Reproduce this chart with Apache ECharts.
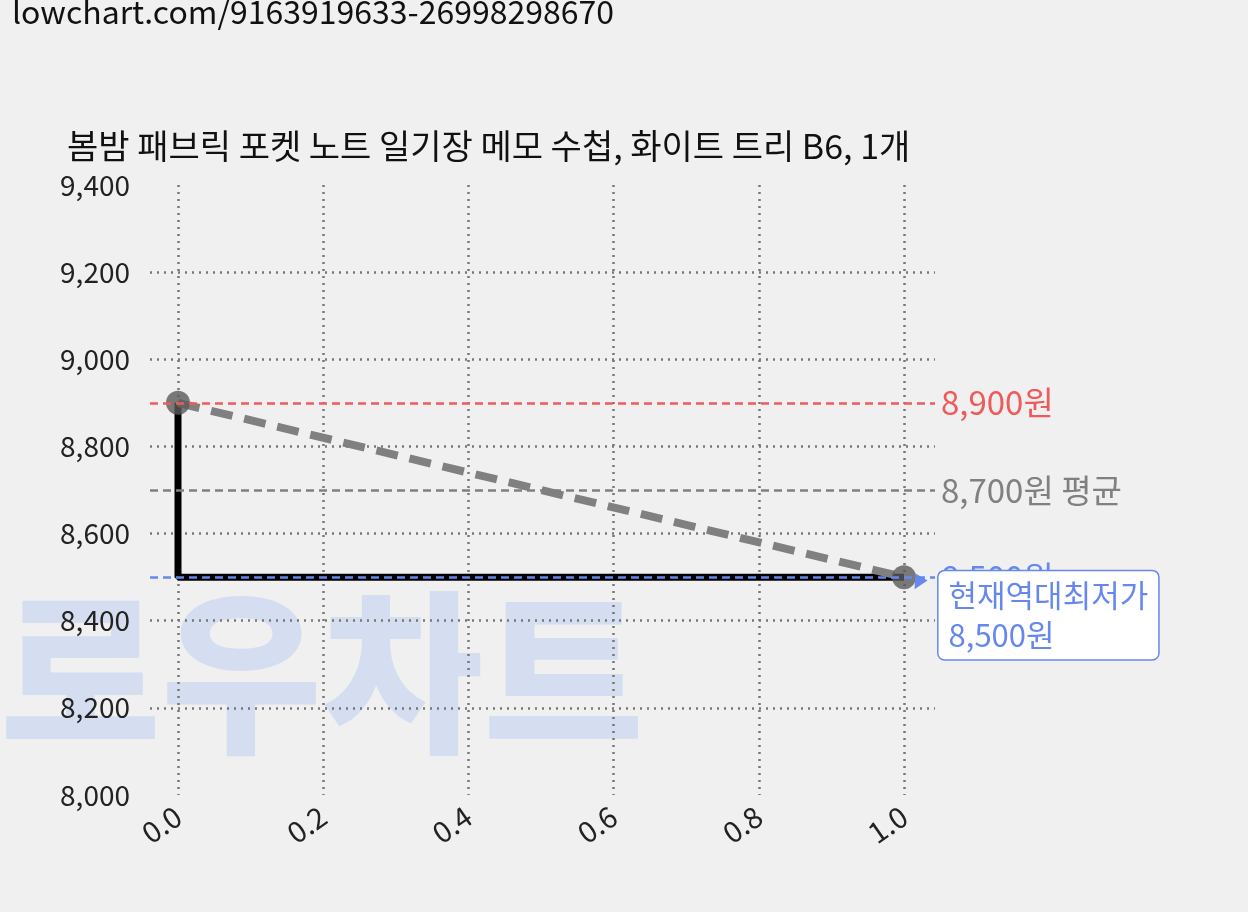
<!DOCTYPE html>
<html><head><meta charset="utf-8">
<script src="https://cdn.jsdelivr.net/npm/echarts@6/dist/echarts.min.js"></script>
<style>html,body{margin:0;background:#f0f0f0}#c{width:1248px;height:912px}</style>
</head><body><div id="c"></div>
<script>
const title = '봄밤 패브릭 포켓 노트 일기장 메모 수첩, 화이트 트리 B6, 1개';
const priceX = [0, 0, 1];
const priceY = [8900, 8500, 8500];
const trendX = [0, 1];
const trendY = [8900, 8500];
const maxPrice = 8900, avgPrice = 8700, minPrice = 8500;
const F = '"Noto Sans CJK KR","Noto Sans",sans-serif';
const chart = echarts.init(document.getElementById('c'));
const step = priceX.map((x,i)=>[x, priceY[i]]);
const trend = trendX.map((x,i)=>[x, trendY[i]]);
const ml = (v, txt, color) => ({yAxis: v, lineStyle:{color, type:[8,5], width:2.5},
  label:{formatter: txt, position:'end', color, fontSize:33, fontFamily:F, distance:6}});
const gl = {color:'#777', type:[2,5], width:2.5};
chart.setOption({
  backgroundColor:'#f0f0f0',
  animation:false,
  graphic:[
    {type:'text', left:12, top:-4, z:0, style:{text:'lowchart.com/9163919633-26998298670', fontSize:32, fontFamily:F, fill:'#111'}},
    {type:'text', left:0, top:585, z:-10, style:{text:'로우차트', fontSize:175, fontWeight:900, fontFamily:F, fill:'#d5ddf0'}}
  ],
  title:{text:title, left:62, top:124, textStyle:{fontSize:34, fontWeight:'normal', color:'#111', fontFamily:F}},
  grid:[{left:150, right:313, top:185, bottom:117},{left:178, right:344, top:185, bottom:117}],
  xAxis:[
    {gridIndex:0, type:'value', min:-0.04, max:1.04, show:false, splitLine:{show:false}},
    {gridIndex:1, type:'value', min:0, max:1, interval:0.2,
     axisLine:{show:false}, axisTick:{show:false},
     axisLabel:{rotate:35, fontSize:29, color:'#222', fontFamily:F, margin:18, formatter:v=>v.toFixed(1)},
     splitLine:{show:true, lineStyle:gl}}
  ],
  yAxis:[
    {gridIndex:0, type:'value', min:8000, max:9400, interval:200,
     axisLine:{show:false}, axisTick:{show:false},
     axisLabel:{fontSize:28, color:'#222', fontFamily:F, margin:20, formatter:v=>v.toLocaleString('en-US')},
     splitLine:{show:true, showMinLine:false, showMaxLine:false, lineStyle:gl}},
    {gridIndex:1, type:'value', min:8000, max:9400, show:false, splitLine:{show:false}}
  ],
  series:[
    {type:'line', xAxisIndex:0, yAxisIndex:0, data:[], symbol:'none',
     markLine:{symbol:'none', silent:true, data:[
       ml(maxPrice, '8,900원', '#f05a5a'),
       ml(avgPrice, '8,700원 평균', '#808080'),
       ml(minPrice, '8,500원', '#6688ee')]}},
    {type:'line', xAxisIndex:1, yAxisIndex:1, data:step, symbol:'none', z:3,
     lineStyle:{color:'#000', width:7}},
    {type:'line', xAxisIndex:1, yAxisIndex:1, data:trend, symbol:'circle', symbolSize:24, z:4,
     itemStyle:{color:'rgba(90,90,90,0.8)'},
     lineStyle:{color:'#808080', width:8, type:[22,12]},
     markPoint:{symbol:'triangle', symbolSize:14, symbolRotate:150, symbolOffset:[14,6],
       itemStyle:{color:'#6688ee'},
       data:[{coord:[trendX[1], minPrice],
        label:{show:true, formatter:'현재역대최저가\n'+minPrice.toLocaleString('en-US')+'원', position:'right',
          offset:[6,32], color:'#6688ee', fontSize:31, fontFamily:F, lineHeight:40, align:'left',
          backgroundColor:'#fff', borderColor:'#6688ee', borderWidth:1.5, borderRadius:6, padding:[4,10,4,10]}}]}}
  ]
});
</script></body></html>
